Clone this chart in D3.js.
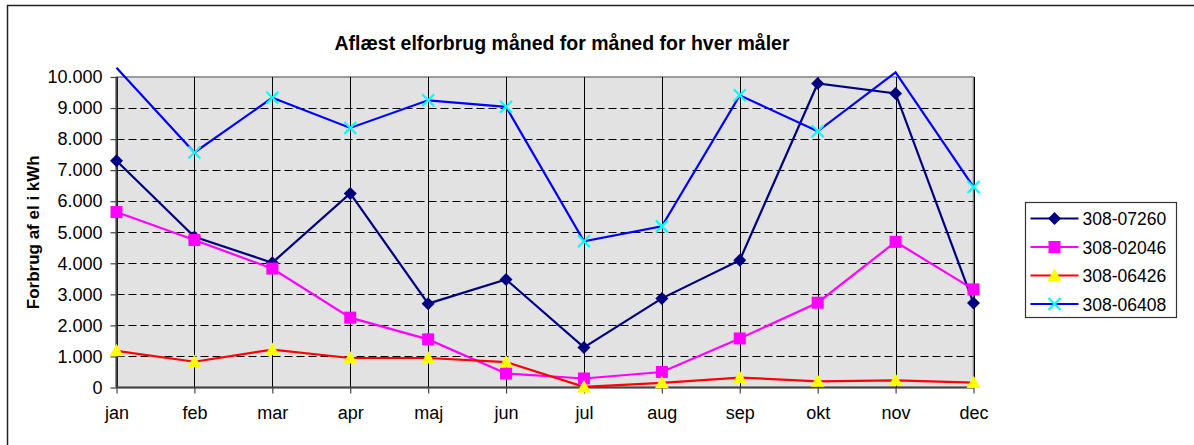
<!DOCTYPE html>
<html>
<head>
<meta charset="utf-8">
<script src="https://cdn.jsdelivr.net/npm/d3@7"></script>
<style>
    body { margin: 0; background: #fff; }
    text { font-family: "Liberation Sans", Arial, sans-serif; fill: #000; }
</style>
</head>
<body>
<svg class="chart"></svg>
<script>
var months = ["jan", "feb", "mar", "apr", "maj", "jun", "jul", "aug", "sep", "okt", "nov", "dec"];
var seriesNames = ["308-07260", "308-02046", "308-06426", "308-06408"];
var meter07260 = [7300, 4850, 4020, 6250, 2700, 3480, 1290, 2870, 4100, 9790, 9470, 2720];
var meter02046 = [5650, 4750, 3830, 2250, 1550, 450, 290, 500, 1580, 2730, 4690, 3160];
var meter06426 = [1180, 830, 1220, 950, 950, 820, 20, 150, 320, 200, 230, 160];
var meter06408 = [10300, 7570, 9330, 8360, 9250, 9040, 4710, 5190, 9410, 8250, 10150, 6460];
var yTicks = [0, 1000, 2000, 3000, 4000, 5000, 6000, 7000, 8000, 9000, 10000];

var series = [
    {name: seriesNames[0], values: meter07260, line: "#000080", fill: "#000080", marker: "diamond"},
    {name: seriesNames[1], values: meter02046, line: "#ff00ff", fill: "#ff00ff", marker: "square"},
    {name: seriesNames[2], values: meter06426, line: "#ff0000", fill: "#ffff00", marker: "triangle"},
    {name: seriesNames[3], values: meter06408, line: "#0000ff", fill: "#00ffff", marker: "cross"}
];

var width = 1194, height = 445;
var plot = {left: 116.5, right: 973.5, top: 77, bottom: 387.5};

var svg = d3.select(".chart").attr("width", width).attr("height", height);

// outer chart frame
svg.append("rect")
        .attr("x", 7.5).attr("y", 5.5)
        .attr("width", width + 10).attr("height", height + 10)
        .attr("fill", "#fff").attr("stroke", "#222").attr("stroke-width", 1.5);

var xScale = d3.scalePoint().domain(months).range([plot.left, plot.right]).padding(0);
var yScale = d3.scaleLinear().domain([0, 10000]).range([plot.bottom, plot.top]);

// plot area
svg.append("rect")
        .attr("x", plot.left).attr("y", plot.top)
        .attr("width", plot.right - plot.left).attr("height", plot.bottom - plot.top)
        .attr("fill", "#e2e2e2").attr("stroke", "#808080").attr("stroke-width", 1.5);

// horizontal dashed grid
svg.append("g").selectAll("line")
        .data(yTicks.filter(function (t) { return t > 0 && t < 10000; }))
        .enter().append("line")
        .attr("x1", plot.left).attr("x2", plot.right)
        .attr("y1", function (t) { return Math.round(yScale(t)) + 0.5; })
        .attr("y2", function (t) { return Math.round(yScale(t)) + 0.5; })
        .attr("stroke", "#000").attr("stroke-width", 1)
        .attr("stroke-dasharray", "8,4");

// vertical grid
svg.append("g").selectAll("line")
        .data(months)
        .enter().append("line")
        .attr("x1", function (m) { return Math.round(xScale(m)) + 0.5; })
        .attr("x2", function (m) { return Math.round(xScale(m)) + 0.5; })
        .attr("y1", plot.top).attr("y2", plot.bottom)
        .attr("stroke", "#000").attr("stroke-width", 1);

var fmt = d3.formatLocale({decimal: ",", thousands: ".", grouping: [3], currency: ["", ""]}).format(",d");

var yAxis = svg.append("g")
        .attr("transform", "translate(" + plot.left + ",0)")
        .call(d3.axisLeft(yScale).tickValues(yTicks).tickFormat(fmt).tickSize(6).tickPadding(8));
var xAxis = svg.append("g")
        .attr("transform", "translate(0," + plot.bottom + ")")
        .call(d3.axisBottom(xScale).tickSize(6).tickPadding(13));

[yAxis, xAxis].forEach(function (axis) {
    axis.select(".domain").attr("stroke", "#444").attr("stroke-width", 2);
    axis.selectAll(".tick line").attr("stroke", "#444").attr("stroke-width", 1.2);
    axis.selectAll(".tick text")
            .style("font-family", "'Liberation Sans', Arial, sans-serif")
            .style("font-size", "18px").attr("fill", "#111");
});
xAxis.select(".domain").attr("d", "M" + plot.left + ",0H" + plot.right);
yAxis.select(".domain").attr("d", "M0," + plot.bottom + "V" + plot.top);

// title
svg.append("text")
        .attr("x", 562).attr("y", 50)
        .style("text-anchor", "middle")
        .style("font-size", "19.5px").style("font-weight", "bold")
        .text("Aflæst elforbrug måned for måned for hver måler");

// y axis label
svg.append("text")
        .attr("transform", "translate(38.5," + ((plot.top + plot.bottom) / 2) + ") rotate(-90)")
        .style("text-anchor", "middle")
        .style("font-size", "17px").style("font-weight", "bold")
        .text("Forbrug af el i kWh");

function drawMarker(g, type, fill) {
    if (type === "diamond") {
        g.append("path").attr("d", "M0,-6.5L6.5,0L0,6.5L-6.5,0Z").attr("fill", fill);
    } else if (type === "square") {
        g.append("rect").attr("x", -6).attr("y", -6).attr("width", 12).attr("height", 12).attr("fill", fill);
    } else if (type === "triangle") {
        g.append("path").attr("d", "M0,-7L7,5.5L-7,5.5Z").attr("fill", fill);
    } else {
        g.append("path").attr("d", "M-6,-6L6,6M-6,6L6,-6")
                .attr("stroke", fill).attr("stroke-width", 2.2).attr("fill", "none");
    }
}

var line = d3.line()
        .x(function (v, i) { return xScale(months[i]); })
        .y(function (v) { return yScale(v); });

series.forEach(function (s) {
    svg.append("path")
            .attr("d", line(s.values))
            .attr("fill", "none")
            .attr("stroke", s.line)
            .attr("stroke-width", 2.2);
});

series.forEach(function (s) {
    s.values.forEach(function (v, i) {
        if (v > 10000) return;
        var g = svg.append("g")
                .attr("transform", "translate(" + xScale(months[i]) + "," + yScale(v) + ")");
        drawMarker(g, s.marker, s.fill);
    });
});

// legend
var legend = svg.append("g").attr("transform", "translate(1025.5,202.5)");
legend.append("rect")
        .attr("width", 151).attr("height", 115)
        .attr("fill", "#fff").attr("stroke", "#333").attr("stroke-width", 1.2);
series.forEach(function (s, i) {
    var row = legend.append("g").attr("transform", "translate(0," + (16 + i * 28.5) + ")");
    row.append("line").attr("x1", 5).attr("x2", 53)
            .attr("stroke", s.line).attr("stroke-width", 2.2);
    drawMarker(row.append("g").attr("transform", "translate(29,0)"), s.marker, s.fill);
    row.append("text").attr("x", 57).attr("y", 6.5)
            .style("font-size", "17.5px")
            .text(s.name);
});
</script>
</body>
</html>
